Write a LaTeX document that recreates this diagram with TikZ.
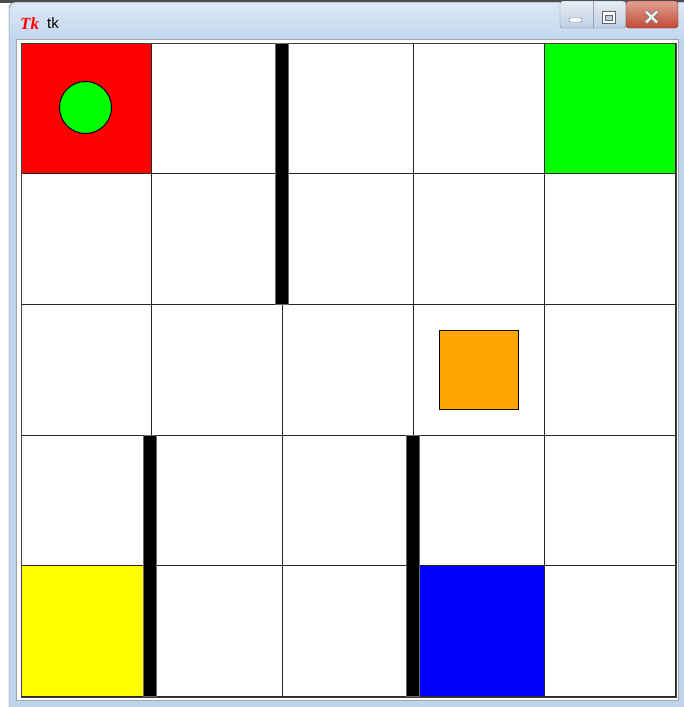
\documentclass[tikz,border=0pt]{standalone}
\usepackage{fontspec}
\setmainfont{Liberation Sans}
\newfontfamily\iconfont{Liberation Serif}
\definecolor{framecol}{HTML}{BFD4EB}
\definecolor{titletop}{HTML}{DCE8F5}
\definecolor{titlebot}{HTML}{C3D7EE}
\definecolor{framedark}{HTML}{5A6676}
\definecolor{btntop}{HTML}{E6EDF6}
\definecolor{btnbot}{HTML}{BFCFE3}
\definecolor{btnedge}{HTML}{6F7F96}
\definecolor{closetop}{HTML}{E3A090}
\definecolor{closebot}{HTML}{C04A36}
\definecolor{closeedge}{HTML}{7A3025}
\definecolor{tkred}{HTML}{FF0000}
\definecolor{tkgreen}{HTML}{00FF00}
\definecolor{tkyellow}{HTML}{FFFF00}
\definecolor{tkblue}{HTML}{0000FF}
\definecolor{tkorange}{HTML}{FFA500}
\tikzset{
  cellbox/.style={draw=black!85, line width=1pt},
  wallbar/.style={fill=black, draw=black!60, line width=0.5pt},
}
\begin{document}
\begin{tikzpicture}[x=1pt,y=-1pt]
\useasboundingbox (0,0) rectangle (684,707);
\fill[white] (0,0) rectangle (684,707);
\fill[black!70] (0,0) rectangle (684,3);
% window frame
\fill[framecol, draw=framedark, rounded corners=6] (9,2) rectangle (694,720);
\shade[top color=titletop, bottom color=titlebot, rounded corners=6] (10,3) rectangle (693,38);
% title
\node[anchor=base west, inner sep=0, text=tkred, font=\iconfont\bfseries\itshape\fontsize{17}{17}\selectfont] (icon) at (20,29) {Tk};
\node[anchor=base west, inner sep=0, font=\fontsize{15}{17}\selectfont] (title) at (47,28) {tk};
% buttons
\shade[top color=btntop, bottom color=btnbot, draw=btnedge, rounded corners=3] (560,1) rectangle (626,28);
\draw[btnedge!70] (593,1) -- (593,28);
\shade[top color=closetop, bottom color=closebot, draw=closeedge, rounded corners=3] (626,1) rectangle (678,28);
\draw[fill=white, draw=black!60, rounded corners=1] (569,18) rectangle (582,22);
\draw[fill=white, draw=black!60] (602,11) rectangle (615,23);
\draw[fill=btnbot, draw=black!60] (605,15) rectangle (612,20);
\draw[black!55, line width=4.2pt] (646,11.5) -- (657,22.5) (657,11.5) -- (646,22.5);
\draw[white!92!black, line width=2.6pt] (646,11.5) -- (657,22.5) (657,11.5) -- (646,22.5);
% client area
\draw[fill=white, draw=black!35] (16.5,39.5) rectangle (678.5,700.5);
% grid cells
\foreach \xl/\xr in {21.5/151.5,151.5/282.5,282.5/413.5,413.5/544.5,544.5/675.5}{
  \foreach \yt/\ybt in {43.5/173.5,173.5/304,304/435,435/565.5,565.5/696.5}{
    \draw[cellbox, fill=white] (\xl,\yt) rectangle (\xr,\ybt);
  }
}
\draw[cellbox, fill=tkred] (21.5,43.5) rectangle (151.5,173.5);
\draw[cellbox, fill=tkgreen] (544.5,43.5) rectangle (675.5,173.5);
\draw[cellbox, fill=tkyellow] (21.5,565.5) rectangle (151.5,696.5);
\draw[cellbox, fill=tkblue] (413.5,565.5) rectangle (544.5,696.5);
% outer canvas border
\draw[black!75, line width=1pt] (21,43) rectangle (676,697);
% items
\draw[fill=tkorange, draw=black, line width=1pt] (439,330) rectangle (518,409);
\node[circle, fill=tkgreen, draw=black, line width=1pt, minimum size=52pt, inner sep=0] (agent) at (85.5,107.5) {};
% walls
\draw[wallbar] (275,43.5) rectangle (288,304);
\draw[wallbar] (143.5,435) rectangle (156.5,696.5);
\draw[wallbar] (406,435) rectangle (419,696.5);
\end{tikzpicture}
\end{document}
